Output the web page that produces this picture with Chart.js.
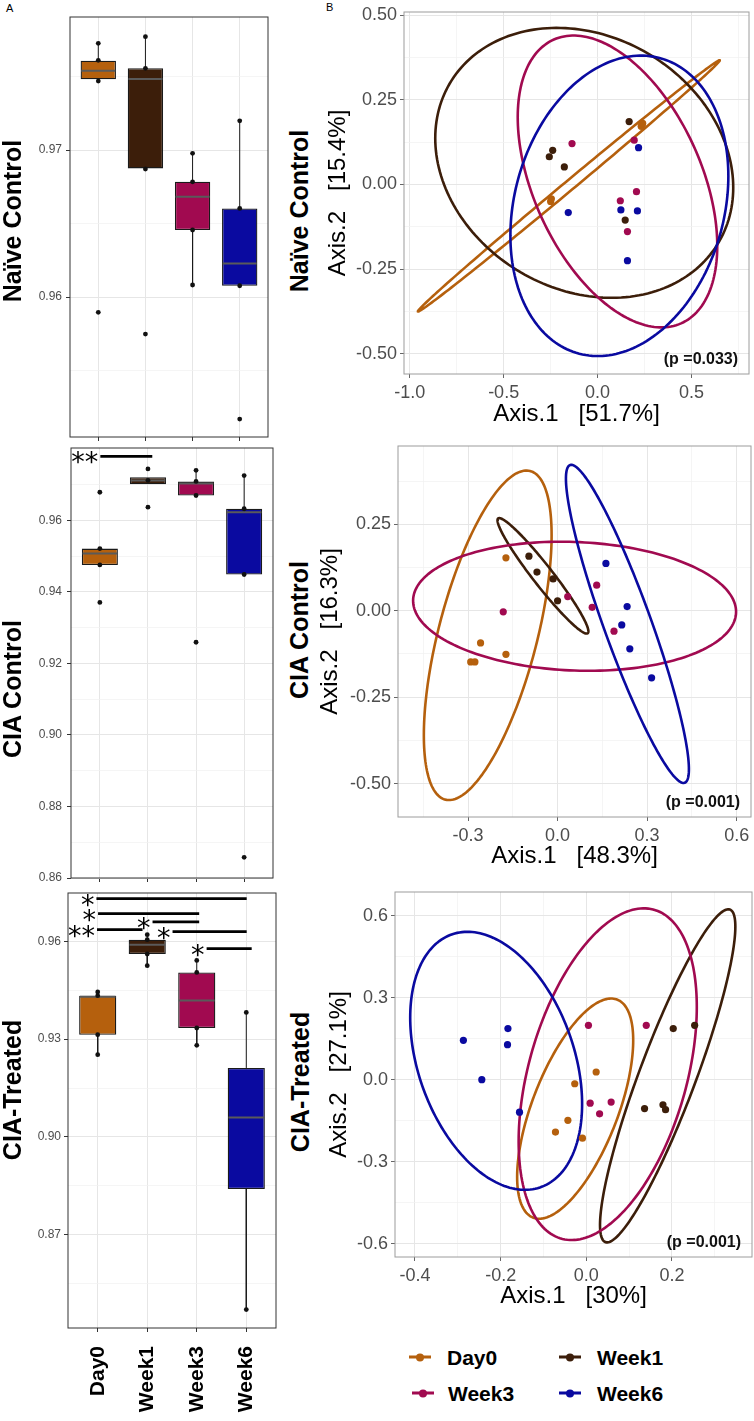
<!DOCTYPE html>
<html>
<head>
<meta charset="utf-8">
<script src="https://cdn.jsdelivr.net/npm/chart.js@4"></script>
<style>
  html, body { margin: 0; padding: 0; background: #fff; }
  body { width: 754px; height: 1421px; position: relative; overflow: hidden; font-family: "Liberation Sans", Arial, sans-serif; }
  canvas { position: absolute; }
  .vt { position: absolute; transform: translate(-50%, -50%) rotate(-90deg); font-weight: bold; font-size: 25px; line-height: 1; white-space: nowrap; color: #000; }
  .tag { position: absolute; font-size: 11px; color: #000; }
  .leg { position: absolute; font-weight: bold; font-size: 21px; line-height: 1; color: #000; transform: translateY(-50%); }
  .key { position: absolute; width: 22px; height: 3px; transform: translate(-50%, -50%); }
  .key i { position: absolute; left: 7px; top: -2.5px; width: 8px; height: 8px; border-radius: 50%; background: inherit; }
</style>
</head>
<body>
<div class="tag" style="left:6px;top:2px">A</div>
<div class="tag" style="left:326px;top:1px">B</div>

<canvas id="boxNaive"></canvas>
<canvas id="boxCia"></canvas>
<canvas id="boxTreated"></canvas>
<canvas id="pcoaNaive"></canvas>
<canvas id="pcoaCia"></canvas>
<canvas id="pcoaTreated"></canvas>

<div class="vt" style="left:12px;top:221px">Naïve Control</div>
<div class="vt" style="left:12px;top:689px">CIA Control</div>
<div class="vt" style="left:12px;top:1090px">CIA-Treated</div>
<div class="vt" style="left:299px;top:211px">Naïve Control</div>
<div class="vt" style="left:299px;top:630px">CIA Control</div>
<div class="vt" style="left:300px;top:1082px">CIA-Treated</div>

<div id="legend"></div>

<script>
// groups and colours
const groups = ['Day0', 'Week1', 'Week3', 'Week6'];
const groupColors = ['#B5600D', '#3C1E0A', '#A10A50', '#0A0AA0'];

// ---- box plots (A) ----
const naiveQ1 = [0.97481, 0.96875, 0.96456, 0.96077];
const naiveMedian = [0.97539, 0.97483, 0.96682, 0.96229];
const naiveQ3 = [0.97607, 0.97556, 0.96784, 0.96603];
const naiveLow = [0.97469, 0.96871, 0.96082, 0.96077];
const naiveHigh = [0.97726, 0.97771, 0.96978, 0.97199];
const naivePoints = [
  [0.97726, 0.9761, 0.97469, 0.95896],
  [0.97771, 0.97556, 0.96871, 0.95748],
  [0.96978, 0.96784, 0.96456, 0.96082],
  [0.97199, 0.96603, 0.96077, 0.9517]
];
const naiveTicks = [0.96, 0.97];
const naiveMinor = [0.955, 0.965, 0.975];

const ciaQ1 = [0.94755, 0.97011, 0.96696, 0.94487];
const ciaMedian = [0.95072, 0.97114, 0.9703, 0.96231];
const ciaQ3 = [0.95212, 0.97206, 0.97086, 0.96326];
const ciaLow = [0.94755, 0.97011, 0.96696, 0.94487];
const ciaHigh = [0.95212, 0.97206, 0.97401, 0.97253];
const ciaPoints = [
  [0.96788, 0.95212, 0.94755, 0.93707],
  [0.9744, 0.9712, 0.9637],
  [0.97401, 0.9709, 0.96696, 0.92593],
  [0.97253, 0.96326, 0.94487, 0.86577]
];
const ciaTicks = [0.86, 0.88, 0.90, 0.92, 0.94, 0.96];
const ciaMinor = [0.87, 0.89, 0.91, 0.93, 0.95, 0.97];
const ciaSigFrom = [1.01];
const ciaSigTo = [2.09];
const ciaSigLevel = [0.97791];
const ciaSigLabel = ['**'];

const treatedQ1 = [0.93138, 0.95613, 0.93343, 0.88405];
const treatedMedian = [0.9430, 0.95899, 0.9419, 0.906];
const treatedQ3 = [0.94334, 0.96052, 0.95049, 0.92117];
const treatedLow = [0.92525, 0.95254, 0.9281, 0.84703];
const treatedHigh = [0.94448, 0.96206, 0.95417, 0.93822];
const treatedPoints = [
  [0.94448, 0.94334, 0.93138, 0.92525],
  [0.96206, 0.96052, 0.95613, 0.95254],
  [0.95417, 0.95049, 0.93343, 0.9281],
  [0.93822, 0.84703]
];
const treatedTicks = [0.87, 0.90, 0.93, 0.96];
const treatedMinor = [0.855, 0.885, 0.915, 0.945];
const treatedSigFrom = [0.974, 1.007, 2.107, 0.986, 2.511, 3.199];
const treatedSigTo = [4.008, 3.049, 3.049, 1.905, 4.008, 4.109];
const treatedSigLevel = [0.9731, 0.9685, 0.9660, 0.9636, 0.9630, 0.9578];
const treatedSigLabel = ['*', '*', '*', '**', '*', '*'];

// ---- PCoA (B): per group x / y, ellipse = [cx, cy, ax, ay, bx, by] ----
const naiveAxis1 = [
  [-0.250, -0.246, 0.232, 0.238, 0.240],
  [0.168, -0.239, -0.257, -0.177, 0.147],
  [-0.136, 0.195, 0.207, 0.121, 0.159],
  [0.218, -0.156, 0.124, 0.212, 0.159]
];
const naiveAxis2 = [
  [-0.050, -0.042, 0.172, 0.178, 0.181],
  [0.186, 0.101, 0.082, 0.052, -0.105],
  [0.121, 0.131, -0.021, -0.048, -0.139],
  [0.109, -0.083, -0.075, -0.078, -0.225]
];
const naiveEllipses = [
  [-0.153, -0.004, 0.803, 0.371, 0.017, -0.011],
  [-0.071, 0.064, 0.793, -0.073, 0, 0.392],
  [0.106, 0.009, 0.531, -0.190, 0, 0.387],
  [0.116, -0.063, 0.580, 0.088, 0, 0.435]
];
const naiveXTicks = [-1.0, -0.5, 0.0, 0.5];
const naiveXMinor = [-0.75, -0.25, 0.25, 0.75];
const naiveYTicks = [-0.5, -0.25, 0, 0.25, 0.5];
const naiveYMinor = [-0.375, -0.125, 0.125, 0.375];

const ciaAxis1 = [
  [-0.173, -0.258, -0.173, -0.291, -0.277],
  [-0.096, -0.069, -0.015, 0.0],
  [-0.182, 0.034, 0.131, 0.116, 0.189],
  [0.162, 0.233, 0.215, 0.242, 0.315]
];
const ciaAxis2 = [
  [0.153, -0.093, -0.126, -0.148, -0.148],
  [0.158, 0.112, 0.092, 0.029],
  [-0.003, 0.041, 0.074, 0.010, -0.059],
  [0.137, 0.012, -0.041, -0.110, -0.194]
];
const ciaEllipses = [
  [-0.234, -0.071, 0.214, 0.289, 0, 0.379],
  [-0.049, 0.101, 0.150, -0.166, 0.026, 0.018],
  [0.057, 0.013, 0.541, -0.016, 0, 0.186],
  [0.234, -0.038, 0.206, -0.420, 0, 0.188]
];
const ciaXTicks = [-0.3, 0.0, 0.3, 0.6];
const ciaXMinor = [-0.45, -0.15, 0.15, 0.45];
const ciaYTicks = [-0.5, -0.25, 0, 0.25];
const ciaYMinor = [-0.375, -0.125, 0.125, 0.375];

const treatedAxis1 = [
  [0.023, -0.027, -0.043, -0.072, -0.009],
  [0.203, 0.253, 0.136, 0.179, 0.185],
  [0.005, 0.140, 0.009, 0.031, 0.058],
  [-0.287, -0.183, -0.184, -0.244, -0.156]
];
const treatedAxis2 = [
  [0.028, -0.015, -0.149, -0.192, -0.214],
  [0.187, 0.199, -0.106, -0.092, -0.110],
  [0.199, 0.199, -0.086, -0.125, -0.082],
  [0.144, 0.187, 0.128, 0.0, -0.119]
];
const treatedEllipses = [
  [-0.026, -0.106, 0.1355, 0.250, 0, 0.316],
  [0.190, 0.014, 0.158, 0.546, 0, 0.271],
  [0.050, 0.020, 0.208, 0.246, 0, 0.555],
  [-0.2105, 0.069, 0.2007, -0.158, 0, 0.445]
];
const treatedXTicks = [-0.4, -0.2, 0.0, 0.2];
const treatedXMinor = [-0.3, -0.1, 0.1, 0.3];
const treatedYTicks = [-0.6, -0.3, 0, 0.3, 0.6];
const treatedYMinor = [-0.45, -0.15, 0.15, 0.45];

// ---------------------------------------------------------------
Chart.defaults.font.family = '"Liberation Sans", Arial, sans-serif';
const PAD_T = 12, PAD_R = 8;

const extras = {
  id: 'extras',
  beforeDatasetsDraw(chart, args, o) {
    if (!o.ellipses) return;
    const { ctx, chartArea: a, scales: { x, y } } = chart;
    ctx.save();
    ctx.beginPath();
    ctx.rect(a.left, a.top, a.right - a.left, a.bottom - a.top);
    ctx.clip();
    o.ellipses.forEach((e, i) => {
      const [cx, cy, ax, ay, bx, by] = e;
      ctx.beginPath();
      for (let k = 0; k <= 200; k++) {
        const t = k / 200 * Math.PI * 2;
        const px = x.getPixelForValue(cx + ax * Math.cos(t) + bx * Math.sin(t));
        const py = y.getPixelForValue(cy + ay * Math.cos(t) + by * Math.sin(t));
        if (k) ctx.lineTo(px, py); else ctx.moveTo(px, py);
      }
      ctx.closePath();
      ctx.strokeStyle = groupColors[i];
      ctx.lineWidth = 2.6;
      ctx.stroke();
    });
    ctx.restore();
  },
  afterDatasetsDraw(chart, args, o) {
    if (!o.sig) return;
    const { ctx, scales: { x, y } } = chart;
    ctx.save();
    ctx.fillStyle = '#000';
    ctx.font = '27px "DejaVu Sans"';
    ctx.textAlign = 'right';
    ctx.textBaseline = 'alphabetic';
    o.sig.label.forEach((lab, i) => {
      ctx.fillText(lab, x.getPixelForValue(o.sig.from[i]) - 2, y.getPixelForValue(o.sig.level[i]) + 15);
    });
    ctx.restore();
  },
  afterDraw(chart, args, o) {
    const { ctx, chartArea: a } = chart;
    ctx.save();
    ctx.strokeStyle = o.frameColor || '#333';
    ctx.lineWidth = 1;
    ctx.strokeRect(a.left, a.top, a.right - a.left, a.bottom - a.top);
    if (o.pText) {
      ctx.fillStyle = '#111';
      ctx.font = 'bold 16px "Liberation Sans", Arial, sans-serif';
      ctx.textAlign = 'right';
      ctx.textBaseline = 'middle';
      ctx.fillText(o.pText, a.right - 11, a.bottom - 14);
    }
    ctx.restore();
  }
};

function mount(id, frame, wy, hx) {
  const [l, t, r, b] = frame;
  const cv = document.getElementById(id);
  const L = l - wy, T = t - PAD_T;
  cv.width = r - L + PAD_R;
  cv.height = b + hx - T;
  cv.style.left = L + 'px';
  cv.style.top = T + 'px';
  return cv;
}

function zeroPad(s) {
  s.paddingLeft = 0; s.paddingRight = 0; s.paddingTop = 0; s.paddingBottom = 0;
}

function valueAxis(o) {
  const all = [...o.majors, ...o.minors].sort((p, q) => p - q);
  const minor = c => c.tick && o.minors.includes(c.tick.value);
  return {
    type: 'linear', min: o.min, max: o.max, bounds: 'data', offset: false,
    afterBuildTicks: s => { s.ticks = all.map(v => ({ value: v })); },
    afterFit: s => { if (o.width !== undefined) s.width = o.width; if (o.height !== undefined) s.height = o.height; zeroPad(s); },
    grid: {
      offset: false,
      color: c => minor(c) ? '#F1F1F1' : '#E6E6E6',
      lineWidth: c => minor(c) ? 0.7 : 1,
      tickLength: 4,
      tickColor: c => minor(c) ? 'rgba(0,0,0,0)' : o.tickColor
    },
    border: { display: false },
    ticks: {
      autoSkip: false, maxRotation: 0, padding: o.pad,
      color: '#4D4D4D', font: { size: o.size },
      callback: v => o.majors.includes(v) ? v.toFixed(o.digits) : ''
    },
    title: o.title ? { display: true, text: o.title, color: '#000', font: { size: 24 }, padding: 0 } : { display: false }
  };
}

function boxChart(id, frame, wy, hx, d) {
  const cv = mount(id, frame, wy, hx);
  const xs = groups.map((g, i) => i + 1);
  const datasets = [
    {
      type: 'bar', order: 2,
      data: xs.map((x, i) => ({ x, y: [d.q1[i], d.q3[i]] })),
      backgroundColor: groupColors, borderColor: '#1A1A1A', borderWidth: 1.3,
      borderSkipped: false, categoryPercentage: 1, barPercentage: 0.75
    },
    {
      type: 'line', order: 3,
      data: xs.flatMap((x, i) => [{ x, y: d.q3[i] }, { x, y: d.hi[i] }, { x, y: null }, { x, y: d.q1[i] }, { x, y: d.lo[i] }, { x, y: null }]),
      borderColor: '#1A1A1A', borderWidth: 1, pointRadius: 0
    },
    {
      type: 'line', order: 1,
      data: xs.flatMap((x, i) => [{ x: x - 0.36, y: d.med[i] }, { x: x + 0.36, y: d.med[i] }, { x, y: null }]),
      borderColor: '#5A5A5A', borderWidth: 2, pointRadius: 0
    },
    {
      type: 'scatter', order: 0,
      data: xs.flatMap((x, i) => d.pts[i].map(y => ({ x, y }))),
      pointRadius: 2.4, backgroundColor: '#111', borderWidth: 0
    }
  ];
  if (d.sig) {
    datasets.push({
      type: 'line', order: 0,
      data: d.sig.from.flatMap((f, i) => [{ x: f, y: d.sig.level[i] }, { x: d.sig.to[i], y: d.sig.level[i] }, { x: d.sig.to[i], y: null }]),
      borderColor: '#000', borderWidth: 2.8, pointRadius: 0
    });
  }
  const xAxis = {
    type: 'linear', min: 0.4, max: 4.6, bounds: 'data', offset: false,
    afterBuildTicks: s => { s.ticks = xs.map(v => ({ value: v })); },
    afterFit: s => { s.height = hx; zeroPad(s); },
    grid: { offset: false, color: '#E6E6E6', tickLength: 4, tickColor: '#333' },
    border: { display: false },
    ticks: {
      display: !!d.labels, autoSkip: false, minRotation: 90, maxRotation: 90, padding: 14,
      color: '#000', font: { size: 21, weight: 'bold' },
      callback: v => groups[v - 1]
    }
  };
  new Chart(cv, {
    type: 'scatter',
    data: { datasets },
    plugins: [extras],
    options: {
      responsive: false, animation: false, devicePixelRatio: 1,
      layout: { padding: { top: PAD_T, right: PAD_R, left: 0, bottom: 0 } },
      scales: {
        x: xAxis,
        y: valueAxis({ min: d.min, max: d.max, majors: d.majors, minors: d.minors, digits: 2, size: 12, pad: d.pad, width: wy, tickColor: '#333' })
      },
      plugins: {
        legend: { display: false }, tooltip: { enabled: false },
        extras: { frameColor: '#333', sig: d.sig }
      }
    }
  });
}

function pcoaChart(id, frame, wy, hx, d) {
  const cv = mount(id, frame, wy, hx);
  const datasets = groups.map((g, i) => ({
    type: 'scatter', label: g,
    data: d.ax1[i].map((x, k) => ({ x, y: d.ax2[i][k] })),
    pointRadius: 3.6, backgroundColor: groupColors[i], borderWidth: 0
  }));
  new Chart(cv, {
    type: 'scatter',
    data: { datasets },
    plugins: [extras],
    options: {
      responsive: false, animation: false, devicePixelRatio: 1,
      layout: { padding: { top: PAD_T, right: PAD_R, left: 0, bottom: 0 } },
      scales: {
        x: valueAxis({ min: d.xMin, max: d.xMax, majors: d.xTicks, minors: d.xMinor, digits: 1, size: 18, pad: 4, height: hx, tickColor: '#666', title: d.xTitle }),
        y: valueAxis({ min: d.yMin, max: d.yMax, majors: d.yTicks, minors: d.yMinor, digits: d.yDigits, size: 18, pad: 3, width: wy, tickColor: '#666', title: d.yTitle })
      },
      plugins: {
        legend: { display: false }, tooltip: { enabled: false },
        extras: { frameColor: '#9C9C9C', ellipses: d.ellipses, pText: d.p }
      }
    }
  });
}

boxChart('boxNaive', [70, 17, 268, 437], 70, 8, {
  q1: naiveQ1, med: naiveMedian, q3: naiveQ3, lo: naiveLow, hi: naiveHigh, pts: naivePoints,
  min: 0.95048, max: 0.97905, majors: naiveTicks, minors: naiveMinor, pad: 4
});
boxChart('boxCia', [71, 448, 273, 878], 71, 8, {
  q1: ciaQ1, med: ciaMedian, q3: ciaQ3, lo: ciaLow, hi: ciaHigh, pts: ciaPoints,
  min: 0.86, max: 0.98025, majors: ciaTicks, minors: ciaMinor, pad: 5,
  sig: { from: ciaSigFrom, to: ciaSigTo, level: ciaSigLevel, label: ciaSigLabel }
});
boxChart('boxTreated', [68, 893, 276, 1328], 68, 93, {
  q1: treatedQ1, med: treatedMedian, q3: treatedQ3, lo: treatedLow, hi: treatedHigh, pts: treatedPoints,
  min: 0.84138, max: 0.97485, majors: treatedTicks, minors: treatedMinor, pad: 3, labels: true,
  sig: { from: treatedSigFrom, to: treatedSigTo, level: treatedSigLevel, label: treatedSigLabel }
});

pcoaChart('pcoaNaive', [404, 12, 749, 374], 80, 55, {
  ax1: naiveAxis1, ax2: naiveAxis2, ellipses: naiveEllipses,
  xMin: -1.0303, xMax: 0.8059, yMin: -0.5598, yMax: 0.5097,
  xTicks: naiveXTicks, xMinor: naiveXMinor, yTicks: naiveYTicks, yMinor: naiveYMinor, yDigits: 2,
  xTitle: 'Axis.1   [51.7%]', yTitle: 'Axis.2   [15.4%]', p: '(p =0.033)'
});
pcoaChart('pcoaCia', [398, 446, 751, 817], 82, 54, {
  ax1: ciaAxis1, ax2: ciaAxis2, ellipses: ciaEllipses,
  xMin: -0.5346, xMax: 0.648, yMin: -0.5966, yMax: 0.4766,
  xTicks: ciaXTicks, xMinor: ciaXMinor, yTicks: ciaYTicks, yMinor: ciaYMinor, yDigits: 2,
  xTitle: 'Axis.1   [48.3%]', yTitle: 'Axis.2   [16.3%]', p: '(p =0.001)'
});
pcoaChart('pcoaTreated', [395, 892, 752, 1257], 70, 54, {
  ax1: treatedAxis1, ax2: treatedAxis2, ellipses: treatedEllipses,
  xMin: -0.4467, xMax: 0.3869, yMin: -0.6491, yMax: 0.6869,
  xTicks: treatedXTicks, xMinor: treatedXMinor, yTicks: treatedYTicks, yMinor: treatedYMinor, yDigits: 1,
  xTitle: 'Axis.1   [30%]', yTitle: 'Axis.2   [27.1%]', p: '(p =0.001)'
});

// legend (two rows, two columns)
const legendPos = [[420, 447, 1357], [570, 597, 1357], [423, 448, 1393], [570, 597, 1393]];
const legendBox = document.getElementById('legend');
groups.forEach((g, k) => {
  const [kx, tx, cy] = legendPos[k];
  const key = document.createElement('div');
  key.className = 'key';
  key.style.cssText = `left:${kx}px;top:${cy}px;background:${groupColors[k]}`;
  key.appendChild(document.createElement('i'));
  const txt = document.createElement('div');
  txt.className = 'leg';
  txt.style.cssText = `left:${tx}px;top:${cy}px`;
  txt.textContent = g;
  legendBox.appendChild(key);
  legendBox.appendChild(txt);
});
</script>
</body>
</html>
